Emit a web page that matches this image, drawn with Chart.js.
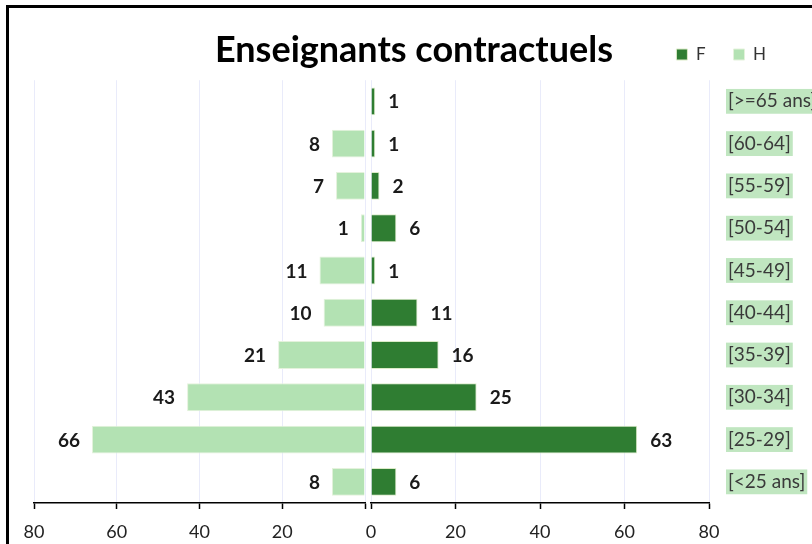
<!DOCTYPE html>
<html>
<head>
<meta charset="utf-8">
<script src="https://cdn.jsdelivr.net/npm/chart.js@4/dist/chart.umd.min.js"></script>
<style>
  body { margin: 0; background: #fff; overflow: hidden; }
  #wrap { position: relative; width: 812px; height: 544px; overflow: hidden; }
  #frame { position: absolute; left: 6px; top: 5px; width: 900px; height: 700px; border: 3px solid #000; }
  #chart { position: absolute; left: 0; top: 0; }
</style>
</head>
<body>
<div id="wrap">
  <div id="frame"></div>
  <canvas id="chart" width="812" height="544"></canvas>
</div>
<script>
const ageGroups = ['[>=65 ans]', '[60-64]', '[55-59]', '[50-54]', '[45-49]', '[40-44]', '[35-39]', '[30-34]', '[25-29]', '[<25 ans]'];
const femmes = [1, 1, 2, 6, 1, 11, 16, 25, 63, 6];
const hommes = [0, 8, 7, 1, 11, 10, 21, 43, 66, 8];
const axisTicks = [0, 20, 40, 60, 80];

const dark = '#2f7d32';
const light = '#b3e2b3';

// numbers at the end of each bar
const valueLabels = {
  id: 'valueLabels',
  afterDatasetsDraw(chart) {
    const ctx = chart.ctx;
    ctx.save();
    ctx.font = 'bold 19px Lato';
    ctx.fillStyle = '#1a1a1a';
    ctx.textBaseline = 'middle';
    chart.data.datasets.forEach((ds, i) => {
      const meta = chart.getDatasetMeta(i);
      const toLeft = meta.xScale.options.reverse;
      ctx.textAlign = toLeft ? 'right' : 'left';
      meta.data.forEach((bar, j) => {
        const v = ds.data[j];
        if (!v) return;
        ctx.fillText(String(v), bar.x + (toLeft ? -12 : 13), bar.y + 1);
      });
    });
    ctx.restore();
  }
};

// let the category labels run to the canvas edge instead of being clipped at the axis box
const fullLabelArea = {
  id: 'fullLabelArea',
  afterLayout(chart) { chart.scales.y.right = chart.width; }
};

const sideAxis = (reverse) => ({
  type: 'linear',
  position: 'bottom',
  stack: 'x',
  reverse: reverse,
  min: axisTicks[0],
  max: axisTicks[axisTicks.length - 1],
  afterFit: s => { s.height = 41; },
  grid: { color: 'rgba(215,218,245,0.55)', tickColor: '#000', tickWidth: 1.5, tickLength: 6 },
  border: { display: true, color: '#000', width: 1.5 },
  ticks: {
    stepSize: 20,
    padding: 14,
    color: '#222',
    font: { family: 'Lato', size: 18, lineHeight: 1 },
    callback: v => (reverse && v === 0) ? '' : v
  }
});

new Chart(document.getElementById('chart'), {
  type: 'bar',
  data: {
    labels: ageGroups,
    datasets: [
      {
        label: 'F',
        data: femmes,
        xAxisID: 'xF',
        backgroundColor: dark,
        borderColor: '#dcebc8',
        borderWidth: 1,
        grouped: false,
        barPercentage: 0.66,
        categoryPercentage: 1
      },
      {
        label: 'H',
        data: hommes,
        xAxisID: 'xH',
        backgroundColor: light,
        borderColor: '#e4f2dc',
        borderWidth: 1,
        grouped: false,
        barPercentage: 0.66,
        categoryPercentage: 1
      }
    ]
  },
  options: {
    indexAxis: 'y',
    responsive: false,
    animation: false,
    layout: { padding: { left: 34, right: 18, top: 18, bottom: 0 } },
    scales: {
      xH: Object.assign(sideAxis(true), { stackWeight: 331 }),
      xGap: {
        type: 'linear',
        position: 'bottom',
        stack: 'x',
        stackWeight: 6,
        grid: { display: false },
        border: { display: false },
        ticks: { display: false }
      },
      xF: Object.assign(sideAxis(false), { stackWeight: 338 }),
      y: {
        type: 'category',
        position: 'right',
        grid: { display: false, drawTicks: false },
        border: { display: false },
        afterFit: s => { s.width = 85; },
        ticks: {
          autoSkip: false,
          padding: 19,
          color: '#3a3a3a',
          font: { family: 'Lato', size: 19 },
          showLabelBackdrop: true,
          backdropColor: '#c0e6c0',
          backdropPadding: { top: 1, bottom: 1, left: 2, right: 2 }
        }
      }
    },
    plugins: {
      title: {
        display: true,
        text: 'Enseignants contractuels',
        color: '#000',
        font: { family: 'Lato', size: 36, weight: 'bold' },
        padding: { top: -44, bottom: 8 }
      },
      legend: {
        position: 'top',
        align: 'end',
        weight: 3000,
        labels: {
          boxWidth: 11,
          boxHeight: 11,
          padding: 28,
          color: '#333',
          font: { family: 'Lato', size: 17 }
        }
      },
      tooltip: { enabled: false }
    }
  },
  plugins: [valueLabels, fullLabelArea]
});
</script>
</body>
</html>
